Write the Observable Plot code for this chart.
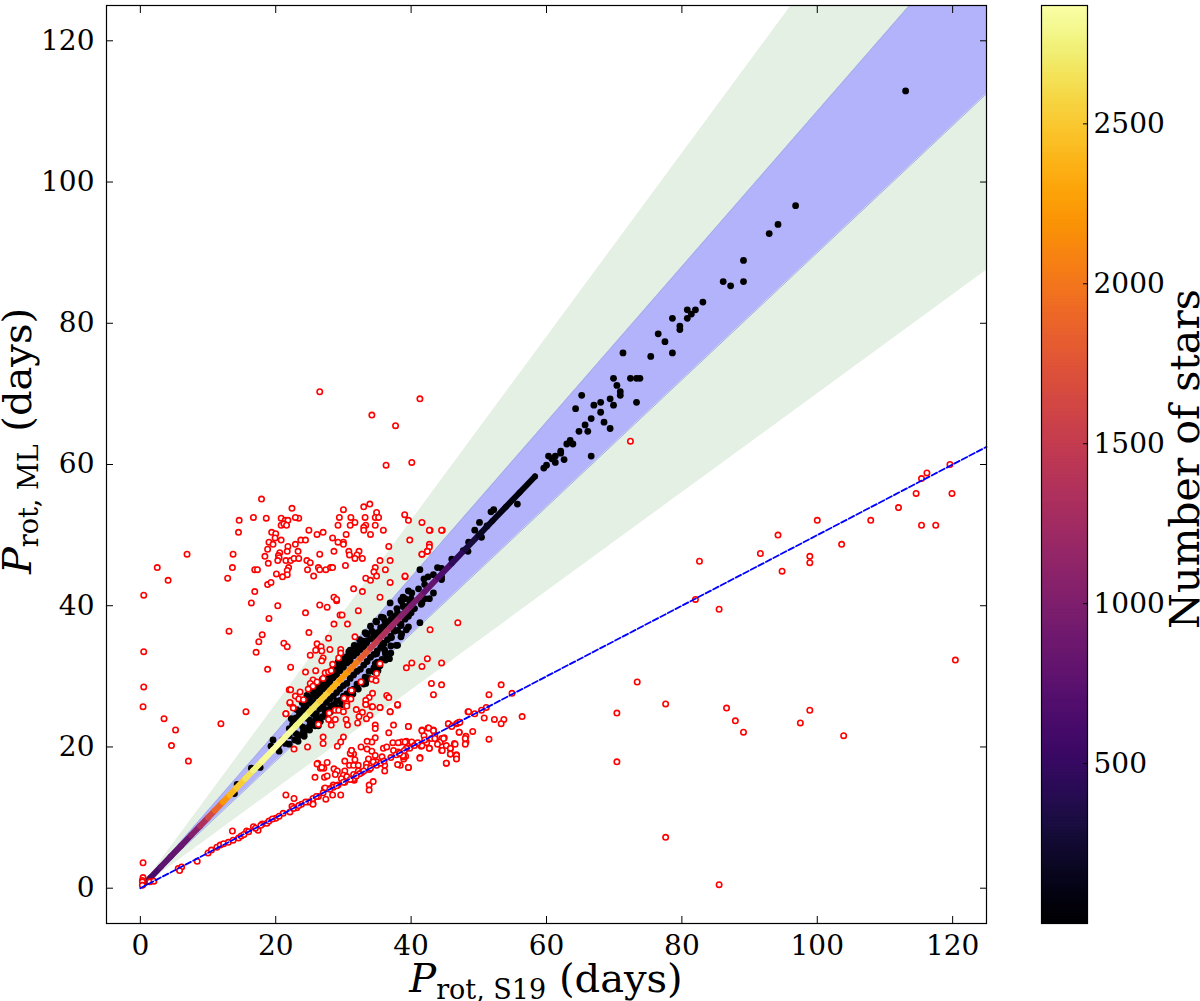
<!DOCTYPE html>
<html><head><meta charset="utf-8">
<style>html,body{margin:0;padding:0;background:#fff}#wrap{position:relative;width:1200px;height:1001px;overflow:hidden}#wrap>svg{position:absolute;top:0}</style>
<script src="https://cdn.jsdelivr.net/npm/d3@7"></script>
<script src="https://cdn.jsdelivr.net/npm/@observablehq/plot@0.6"></script>
</head><body><div id="wrap"></div>
<script>
const xTicks=[0,20,40,60,80,100,120];
const yTicks=[0,20,40,60,80,100,120];
const barTicks=[500,1000,1500,2000,2500];
const bandX=[0,125];
const greenLow=[0,87.5], greenHigh=[0,162.5];
const blueLow=[0,112.5], blueHigh=[0,137.5];
const harmonicX=[0,125], harmonicY=[0,62.5];
const ridgeP=[0.7,1.5,3,4.5,6,7.5,8.8,10,11,12.2,13.2,14.2,15.5,16.7,18,19.5,21,23,25,26.5,28,29.5,31,32.5,34,35.5,37,38.5,40,42,44,46,48,50,52,54,56,58.3];
const ridgeCount=[500,620,760,800,830,1050,1330,1640,1900,2200,2400,2520,2650,2760,2830,2860,2840,2780,2650,2540,2380,2220,2050,1800,1520,1350,1200,1050,950,800,650,450,300,170,110,70,40,25];
const blackPoints=[[113.05,112.9],[96.8,96.65],[94.2,94],[92.9,92.7],[89.1,88.9],[89.1,85.9],[87.2,85.3],[86.1,85.9],[83.1,83],[82,81.9],[80.8,81.9],[81.4,81.3],[80.8,80.7],[78.6,80.7],[79.7,79.6],[79.7,79.1],[76.5,78.5],[77.5,77.4],[78.6,75.8],[75.4,75.3],[71.3,75.8],[69.9,72.2],[72.4,72.2],[73.3,72.2],[73.8,72.2],[70.4,71.2],[70.9,70.3],[70.9,69.8],[69.4,69.3],[73.3,68.8],[65.2,69.8],[68,68.8],[67,68.4],[69.9,68.4],[64.3,67.9],[68,67.4],[66.6,66.5],[68.5,66],[65.7,65.6],[64.8,64.7],[66.1,64.7],[69.4,65.1],[63.5,63.4],[63,62.9],[63.9,62.9],[62.1,61.9],[62.1,61.6],[66.6,61.2],[60.3,61.2],[61.3,61.2],[60.8,60.8],[62.6,60.7],[61.3,60.3],[60,59.9],[59.6,59.5],[55.7,54.4],[52.2,53.6],[51.8,53.3],[50.1,51.8],[51.2,51.3],[49.4,50.7],[50.4,49.7],[48.5,49],[48.4,47.7],[47.7,47.8],[43.9,45.4],[41.3,45.1],[43.3,44.4],[42.5,44.1],[41.9,43.8],[44.5,44.1],[41.1,42.4],[39.6,42.1],[40.1,41.8],[38.8,41.2],[43.3,41.8],[42.7,41],[41.6,40.4],[39.8,40.3],[38.6,40.6],[39,39.9],[39.6,38.5],[39.1,38.1],[41.3,37.6],[39.3,36.6],[38.5,37.2],[39.1,41],[36.9,40.4],[38.5,40.8],[38.8,39.9],[37.9,39.6],[36.9,38.9],[35.9,38.3],[34.9,37.7],[33.4,36],[32.2,34.1],[31,33.7],[30.5,32.7],[37.3,37.2],[38.4,37.4],[37.1,35.5],[36.1,33.7],[34.7,31.8],[34.9,33.2],[35.8,34.7],[34.9,35.1],[33.4,34.7],
[19.6,21],[21.4,20.5],[20.5,19.4],[22,20.4],[22.5,23.2],[22.8,21],[23,24],[23.4,21.6],[23.6,25],[24,22],[24.2,25.8],[24.5,22.6],[24.8,26.5],[25,23],[25.2,27],[25.5,23.2],[25.6,27.5],[25.9,24],[26,23.4],[26.2,27.9],[26.5,24],[26.6,28.6],[26.9,24.3],[27,29],[27.3,25],[27.4,29.4],[27.8,25.3],[27.9,30],[28.2,25.8],[28.3,30.3],[28.6,26],[28.8,30.8],[29,26.5],[29.3,31.2],[29.5,26.6],[29.8,31.8],[30,27.2],[30.2,32.4],[30.5,27.5],[30.7,32.9],[31,28],[31.2,33.4],[31.5,28.2],[31.8,33.9],[32,28.9],[32.3,34.4],[32.6,29.2],[32.9,35],[33.2,29.9],[33.5,36],[33.8,30.7],[34.2,36.4],[34.5,31.2],[34.9,35.9],[35,32],[35.5,36.9],[35.7,32.4],[36.1,37.9],[36.2,33.2],[37,34.3],
[23,24.1],[23,21.9],[24,25.2],[24,22.8],[25,26.2],[25,23.8],[26,27.2],[26,24.7],[27,28.2],[27,25.7],[28,29.2],[28,26.8],[29,30.2],[29,27.7],[30,31.3],[30,28.7],[31,32.2],[31,29.7],[32,33.3],[32,30.7],[33,34.2],[33,31.6],[34,35.3],[34,32.7],[35,36.2],[35,33.6],[36,37.1],[36,34.6],[37,38],[37,35.7],[38,39],[38,36.5],[40,41],[40,39],[42,43],[42,41],[44.5,45.3],[44.5,43.7],[46,46.6],[14.3,14.7],[16.4,17],[17.7,17.1],[13.9,13.4],
[23.5,23.4],[23.5,24.6],[24.5,24.1],[24.5,25.5],[25.5,24.7],[25.5,26.5],[26.5,25.4],[26.5,27.6],[27.5,26.3],[27.5,28.7],[28.5,27.2],[28.5,29.8],[29.5,28.2],[29.5,30.8],[30.5,29],[30.5,31.9],[31.5,30.2],[31.5,32.9],[32.5,31],[32.5,33.8],[33.5,32.1],[33.5,35],[34.5,33.1],[34.5,35.9],[35.5,34.1],[35.5,36.5],[36.5,35.2],[36.5,37.6],[37.5,36.4],[37.5,38.5],[38.5,37.4],[39,38.9],[40.5,39.6],[41.5,40.2],[22,21.6],[21,21],[20.4,20.2],[19.3,20.1],[24.2,21.5],[26.3,23],[28.9,25.4],[30.8,26.9],[31.3,27.6],[33.3,29],[35.1,30.8],[36.8,32.5],[38,34.4],[38.5,35.6],[39.6,37],[27.3,28.5],[22,22.6],
[22.3,24],[23.1,25.3],[23.9,26.3],[24.6,27.3],[25.4,28],[26.1,28.7],[26.9,29.6],[27.7,30.5],[28.5,31.2],[29.2,32],[30,32.7],[30.8,33.5],[31.6,34.4],[32.4,35.2],[33.2,36.2],[34,37.1],[34.8,37.8],[35.6,38.4],[23.3,20.8],[24.2,21.9],[25,22.4],[25.8,23],[26.6,23.6],[27.4,24.3],[28.1,25],[29,25.6],[29.8,26],[30.6,26.8],[31.4,27.5],[32.2,28.2],[33,28.9],[33.8,29.7],[34.6,30.6],[35.4,31.5],[36.2,32.3],[37,33.3],[37.8,34.4],[38.6,36]];
const redPoints=[[119.6,60],[116.2,58.8],[115.4,58],[114.6,55.9],[119.9,55.9],[112,53.9],[107.9,52.1],[117.5,51.4],[115.4,51.4],[100,52.1],[94.2,50],[103.6,48.7],[91.6,47.4],[98.9,47],[98.9,46.1],[94.8,44.9],[82.6,46.3],[82,40.9],[85.5,39.5],[120.4,32.3],[73.4,29.2],[77.6,26.1],[70.4,24.8],[86.6,25.5],[87.9,23.7],[89.1,22.1],[98.9,25.2],[97.5,23.4],[103.9,21.6],[70.4,17.9],[77.6,7.2],[85.5,0.5],[72.4,63.3],[42.8,50.7],[44.6,50.7],
[39.05,52.9],[39.6,52.1],[41.6,51.8],[42.7,50.7],[44.5,50.7],[39.8,49.3],[42.7,48.7],[42.7,48.3],[42.4,47.7],[41.6,47.3],[39.1,44.1],[46.9,37.6],[42.8,36.6],[42.4,32.5],[40.1,31.9],[39.3,31.2],[41.6,31.4],[44.5,31.9],[43,29],[44.5,28.8],[43.3,27.4],[53.3,28.8],[51.5,27.4],[54.9,27.6],[56.4,24.3],[53.7,23.9],[53.3,23.3],[52.3,23.9],[51.1,25.6],[50.4,25.2],[50.8,24.1],[49.4,24.7],[48.4,25],[45.5,23.3],[45.9,23],[46.7,23.3],[47.1,23.5],[47.1,22.1],[49.1,22.2],[48.1,21.5],[48.1,20.7],[51.5,21.1],[46.4,20.5],[45.8,19.7],[45.8,19],[46.7,18.9],[46.7,18.4],[45.2,17.7],[39.6,17.1],[41.3,18.5],[41.6,22.4],[42.5,22.7],[43.3,22.4],[39.6,22.9],[41.9,21.6],[43.5,21.7],[43,21.2],[44.5,21.2],[44.9,21.3],[44,20.6],[40.1,20.6],[39.3,20.8],[38.6,20.7],[42.3,20.6],[41.5,20.1],[44.5,20.2],[44.5,19.5],[45.2,20.2],[42.7,19.8],[39.8,19.8],[39.2,18.7],[38.9,18.3],[38.4,19],[38.9,18.6],[38.4,17.4],[40.8,20.5],
[15.6,25],[21.5,24.7],[22.1,26.2],[22.6,25.6],[24.7,20],[22.7,19.7],[27,21.4],[27,20.5],[30,21.4],[29.6,20.7],[29.1,20.1],[27.9,24.8],[28.8,25.2],[29.3,25.2],[27.8,23.9],[28.8,23.9],[28.2,23.1],[26.3,23.2],[30,25],[30.4,23.9],[30.6,23.1],[30.4,25.9],[30.5,26.4],[31.9,25.3],[32.8,24.9],[32.3,24.3],[32.1,23.4],[33.9,24.5],[33.4,24],[33.3,26.1],[34.2,25.7],[35.4,25.6],[36.9,25],[38,25.9],[34.7,23.1],[34.7,22.6],[37.4,23.1],[39.6,22.9],[36.7,22],[34.7,21.3],[34.2,20.7],[33.5,20.8],[32.6,20],[31.2,19.5],[33.5,19.7],[34.2,19.4],[31.5,19],[31.1,19],[31.7,18.2],[30.2,18],[30.9,17.4],[26.2,17.7],[27.6,17.8],[26.6,17],[27.1,17],[28.6,16.9],[29.1,16.6],[28.8,16.1],[30.2,16.6],[30,16],[31.5,17.4],[32.2,17.4],[32.2,16.6],[31.5,16.1],[33.7,18.3],[33.4,17.6],[34.7,18.8],[35.7,18.6],[34.9,17.9],[36.1,17.4],[36.1,16.6],[33.8,16.8],[38,17.5],[39.6,17.1],[41.3,18.4],[45.2,17.7],[35.9,19.8],[36.4,20],[37.3,20.6],[38.1,20.6],[37.4,19.5],[38.1,19.3],[39.1,20.7],[39.3,19.8],[38.8,18.8],[40.1,20.7],[41.6,22.3],[42.6,22.7],[43.3,22.3],[42.7,19.8],[41.6,20.2],[43.5,21.2],[44.3,20.7],[44.8,21.2],[43.9,20.4],[44.6,19.5],[45.8,19.8],[45.8,19],[46.5,20.4],[46.7,18.8],[46.7,18.3],[45.5,23.3],[46,22.9],[46.9,23.4],[47.2,23.5],[47.1,22.1],[48.5,25],[48,21.2],[48,20.4],
[33.8,14.6],[34.4,15.1],[33.8,13.9],[29.6,13.2],[28.4,13.2],[27.4,12.6],[25.5,12],[21.5,13.2],[22.7,12.7],[25.8,15.7],[27.2,15.7],[27.6,15.9],[28,14.1],[27.2,14.1],[28.5,14.6],[29.7,15.5],[30.5,15.8],[31.6,15.3],[32.7,16.4],
[0.4,3.6],[0.4,1.5],[0.3,1.1],[0.3,0.9],[0.3,0.4],[1.4,0.9],[2,1],[5.6,2.8],[6.1,3],[5.8,2.5],[8.4,3.8],[10,5],[10.5,5.4],[11.3,5.8],[11.8,6.1],[12.3,6.3],[13,6.5],[13.7,6.8],[14.5,7.1],[13.6,8.1],[15.7,8.1],[16.7,8.7],[17.4,8.2],[18,9.1],[18.7,9.2],[20,9.9],[21.1,10.6],[22.1,10.8],[22.4,11.6],[23.1,11.4],[23.8,11.9],[25.5,11.9],[24.8,12.2],[25.5,12.7],[26.3,13],[27.3,14.2],[28.5,14.3],[29.2,14.6],[30.2,15],[31.5,15.5],[32.4,16.2],[33.4,17.1],[34.4,17.9],[26.1,17.6],[26.8,17.1],[31,19.1],[31.2,19.5],
[31,15.4],[31.9,15.9],[33,16.6],[34,17],[34.9,17.4],[35.5,17.7],[37,18.5],[37.8,18.9],[39,19.5],[40.5,20.2],[41,20.6],[42,21],[14.9,7.4],[15.3,7.6],[16,8],[17,8.5],[17.8,8.9],[19,9.5],[19.5,9.8],[20.5,10.2],[22.6,11.3],[23.4,11.7],[24.4,12.2],[26,13],[27,13.5],[28,14],[29,14.5],[30,15],[36,18],[38.3,19.1],
[16.4,40.4],[20.3,40],[19,38.2],[18,35.9],[17.5,34.9],[17.1,33.4],[21.2,34.7],[21.7,34.2],[18.8,31],[22.2,31.3],[24.4,39],[26.5,40.1],[27.6,39.8],[29,40.7],[29.5,38.7],[29.8,38.7],[32.2,39.3],[28.6,37.4],[30.6,37.4],[24.9,36.2],[31.7,35.6],[27.8,35.4],[26.1,34.6],[26.7,34.2],[25.9,33.7],[26.8,33.6],[28,33.8],[29.6,33.8],[29.6,33.3],[25.1,33],[29.3,32.6],[27,32.6],[26.8,32.2],[28.4,31.7],[24.4,30.6],[25.9,30.8],[27,29.7],[27.3,30.5],[27.8,30.6],[28.2,30.8],[25.5,29.5],[25.1,29],[26.1,29.2],[25.5,28.6],[24.8,28.2],[22,28.1],[22.2,28.1],[23.6,27.8],[22.9,27.2],[23.4,26.8],[24.1,26.7],[22.1,26.3],[22.6,25.5],[21.5,24.7],[35.4,31.8],[34.9,30.4],[34.2,29.6],[34.8,29.4],[32.6,29.2],[31.2,28],[30.1,26.9],[31.1,26.8],[30.5,26.1],[30.5,25.8],[34.3,27.6],[33.8,27],[33.3,26.6],[33.3,26],[36.4,27.3],[36.7,27],[34.3,25.7],[35.4,25.6],[38,26],[36.9,25],
[17.9,55.1],[22.4,53.8],[18.6,52.4],[20.8,52.4],[23.4,52.4],[14.6,52.1],[16.7,52.5],[22.9,52.5],[21.4,52.1],[21.8,52.1],[20.8,51.4],[21.2,51.6],[21.6,51.4],[24.9,50.7],[26.1,50.1],[27,50.4],[28.4,49.6],[30.4,50.1],[30,53.6],[33,54],[33.9,54.4],[34.9,53.2],[34.7,52.5],[35.2,52.5],[33.2,52.5],[29.4,52.5],[31.1,52.5],[31.7,51.8],[31,51.4],[29.2,51.4],[33.3,51.4],[34.7,51.4],[33,51.1],[33,50.7],[34,50.1],[35.9,50.7],[14.5,50.4],[19.4,50.4],[20,50.2],[19.9,49.6],[20.8,49.3],[19,49],[19.6,48.7],[18.8,48],[21.8,48.4],[21.7,47.7],[22.9,48.7],[23.7,49.3],[24.4,49.3],[23.3,47.7],[18.4,47],[20.6,47.5],[20.4,47.1],[20.5,46.8],[20.3,46.4],[18.9,46],[13.7,47.3],[13.6,45.4],[12.9,43.9],[16.9,45.1],[17.3,45.1],[21.5,46.4],[22.2,46.4],[22.7,46.7],[23.4,46.7],[21.9,45.4],[21.7,45],[21.7,44.4],[21,44.1],[20.1,44.5],[26.5,47.3],[28.6,47.7],[30.8,47.7],[32.3,47.7],[30.9,47.2],[32,47.2],[31.7,46.7],[32.8,46.7],[30.3,45.7],[29.2,49],[30,49],[30,48.7],[24.6,46.4],[25.1,46.1],[24.7,45.1],[25.6,44.2],[26.3,45.4],[26.5,45.1],[27.4,45.1],[28.1,45.4],[28.4,45.4],[36.7,48.4],[35.4,46.4],[36.9,46.4],[34.7,45.4],[34.5,44.8],[36.2,45.1],[34.9,44.2],[33.3,43.9],[34,43.6],[36.9,43.3],[39.1,44.2],[31.5,42.4],[32.8,42],[35.4,41.2],[28.6,41.2],[29,40.9],[41.6,47.3],[42.4,47.7],[16.9,42],[18.8,43],[19.3,43.3],[13.1,36.4],[11.9,23.3],
[0.5,41.5],[0.5,33.5],[0.5,28.5],[0.4,25.7],[2.5,45.4],[4.1,43.6],[6.9,47.3],[3.5,24],[5.2,22.4],[4.6,20.2],[7.1,18],[26.5,70.3],[41.3,69.3],[34.2,67],[37.7,65.5],[36.3,59.9],[40.1,60.3]];

const ridge=ridgeP.map((p,i)=>({p,count:ridgeCount[i]}));
const colorScale={type:"linear",scheme:"inferno",domain:[0,2870]};
const font='"DejaVu Serif",serif';
const band=bandX.map((x,i)=>({x,gl:greenLow[i],gh:greenHigh[i],bl:blueLow[i],bh:blueHigh[i]}));
const harmonic=harmonicX.map((x,i)=>({x,y:harmonicY[i]}));
const plain=d=>String(d);

const main=Plot.plot({
  width:1000,height:1001,marginLeft:106,marginRight:14,marginTop:5,marginBottom:78,
  style:{fontFamily:font,background:"transparent",overflow:"visible"},
  x:{domain:[-5,125],label:null},y:{domain:[-5,125],label:null},
  color:colorScale,
  marks:[
    Plot.areaY(band,{x:"x",y1:"gl",y2:"gh",fill:"#e5f0e5",clip:true}),
    Plot.areaY(band,{x:"x",y1:"bl",y2:"bh",fill:"#b3b3fb",clip:true}),
    Plot.line(band,{x:"x",y:"bl",stroke:"#9fb0e2",strokeWidth:1,clip:true}),
    Plot.line(band,{x:"x",y:"bh",stroke:"#9fb0e2",strokeWidth:1,clip:true}),
    Plot.dot(blackPoints,{x:d=>d[0],y:d=>d[1],r:3.4,fill:"black"}),
    Plot.line(ridge,{x:"p",y:"p",z:null,stroke:"count",strokeWidth:6,strokeLinecap:"round"}),
    Plot.dot(redPoints,{x:d=>d[0],y:d=>d[1],r:2.7,fill:"white",stroke:"#ff0000",strokeWidth:1.6}),
    Plot.line(harmonic,{x:"x",y:"y",stroke:"#0000ff",strokeWidth:1.8,strokeDasharray:"6,2.5"}),
    Plot.frame({stroke:"black",strokeWidth:1.2}),
    Plot.axisX(xTicks,{anchor:"bottom",tickSize:-7,tickPadding:19,fontSize:28,stroke:"black",tickFormat:plain}),
    Plot.axisY(yTicks,{anchor:"left",tickSize:-7,tickPadding:19,fontSize:28,stroke:"black",tickFormat:plain}),
    Plot.axisX(xTicks,{anchor:"top",tickSize:-7,tickFormat:()=>"",label:null,stroke:"black"}),
    Plot.axisY(yTicks,{anchor:"right",tickSize:-7,tickFormat:()=>"",label:null,stroke:"black"})
  ]
});
const wrap=document.getElementById("wrap");
main.style.left="0px";wrap.appendChild(main);

function mathLabel(svg,sub,attrs){
  const t=d3.select(svg).append("text").attr("font-family",font).attr("font-size",40).attr("fill","black").attr("text-anchor","middle");
  Object.entries(attrs).forEach(([k,v])=>t.attr(k,v));
  t.append("tspan").attr("font-style","italic").text("P");
  t.append("tspan").attr("font-size",27).attr("dy",7).text(sub);
  t.append("tspan").attr("dy",-7).text(" (days)");
}
mathLabel(main,"rot, S19",{x:546,y:992});
mathLabel(main,"rot, ML",{transform:"translate(31,441) rotate(-90)"});

const barStep=10;
const barValues=d3.range(0,2870,barStep);
const bar=Plot.plot({
  width:200,height:1001,marginLeft:41,marginRight:113,marginTop:5,marginBottom:78,
  style:{fontFamily:font,background:"transparent",overflow:"visible"},
  x:{domain:[0,1],axis:null},y:{domain:[0,2870],label:null},
  color:colorScale,
  marks:[
    Plot.rect(barValues,{x1:0,x2:1,y1:d=>d,y2:d=>d+barStep*1.6,fill:d=>d+barStep/2,clip:true}),
    Plot.frame({stroke:"black",strokeWidth:1.2}),
    Plot.axisY(barTicks,{anchor:"right",tickSize:-5,tickPadding:11,fontSize:28,stroke:"black",label:null,tickFormat:plain})
  ]
});
bar.style.left="1000px";wrap.appendChild(bar);
d3.select(bar).append("text").attr("font-family",font).attr("font-size",41).attr("fill","black").attr("text-anchor","middle")
  .attr("transform","translate(199,459) rotate(-90)").text("Number of stars");
</script></body></html>
